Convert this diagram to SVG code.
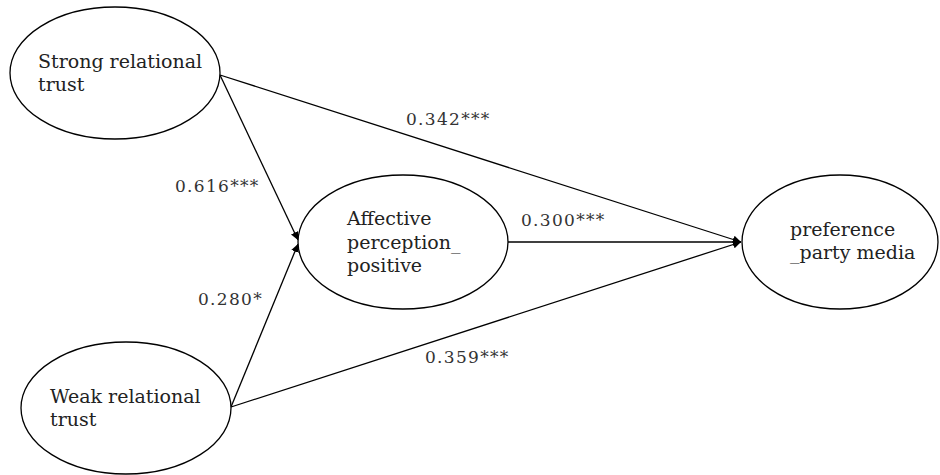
<svg xmlns="http://www.w3.org/2000/svg" width="940" height="475" viewBox="0 0 940 475">
<defs>
<marker id="ah" viewBox="0 0 10 10" refX="10" refY="5" markerWidth="8" markerHeight="8" markerUnits="userSpaceOnUse" orient="auto">
<path d="M0,0 L10,5 L0,10 Z" fill="#000"/>
</marker>
<style>
.node ellipse{fill:#fff;stroke:#000;stroke-width:1.3}
.node text{font-family:"DejaVu Serif","Liberation Serif",serif;font-size:19px;fill:#222}
.lbl{font-family:"DejaVu Serif","Liberation Serif",serif;font-size:17px;letter-spacing:1.3px;fill:#333}
.edges line{stroke:#000;stroke-width:1.3;marker-end:url(#ah)}
</style>
</defs>
<rect width="940" height="475" fill="#fff"/>
<g class="edges" id="connectors">
<line x1="220" y1="75" x2="298" y2="240"/>
<line x1="231" y1="407" x2="298" y2="244"/>
<line x1="220" y1="75" x2="741" y2="242"/>
<line x1="508" y1="242" x2="741" y2="242"/>
<line x1="231" y1="407" x2="741" y2="242"/>
</g>
<g id="strong" class="node">
<ellipse cx="115" cy="73" rx="105" ry="66"/>
<text x="38" y="68">Strong relational</text>
<text x="38" y="91">trust</text>
</g>
<g id="weak" class="node">
<ellipse cx="126" cy="408" rx="105" ry="66"/>
<text x="50" y="403">Weak relational</text>
<text x="50" y="426">trust</text>
</g>
<g id="affective" class="node">
<ellipse cx="403" cy="242" rx="105" ry="67"/>
<text x="347" y="225">Affective</text>
<text x="347" y="249">perception_</text>
<text x="347" y="272">positive</text>
</g>
<g id="preference" class="node">
<ellipse cx="840" cy="242" rx="98" ry="67"/>
<text x="790" y="236">preference</text>
<text x="790" y="259">_party media</text>
</g>
<g id="labels">
<text class="lbl" x="406" y="125">0.342***</text>
<text class="lbl" x="175" y="192">0.616***</text>
<text class="lbl" x="521" y="226">0.300***</text>
<text class="lbl" x="198" y="305">0.280*</text>
<text class="lbl" x="425" y="363">0.359***</text>
</g>
</svg>
